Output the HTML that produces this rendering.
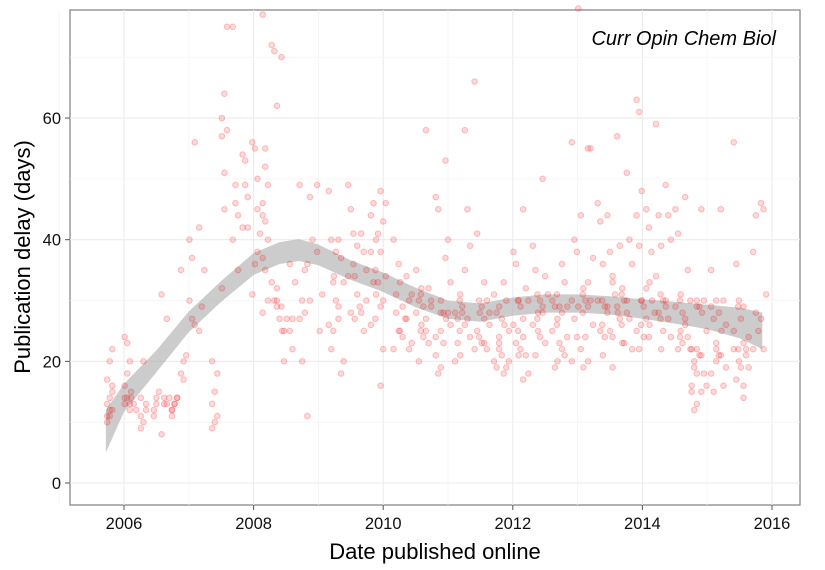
<!DOCTYPE html>
<html><head><meta charset="utf-8"><style>
body{margin:0;background:#fff;}
svg{display:block;font-family:"Liberation Sans",sans-serif;}
</style></head><body>
<svg id="chart" width="825" height="570" viewBox="0 0 825 570">
<rect x="70" y="10" width="730" height="495" fill="#fff" stroke="#7f7f7f" stroke-width="1.2"/>
<g id="grid"></g>
<g id="band"></g>
<g id="pts"></g>
<g id="axes"></g>
<text x="776" y="45" text-anchor="end" font-size="20" font-style="italic">Curr Opin Chem Biol</text>
<text x="435" y="559" text-anchor="middle" font-size="22">Date published online</text>
<text transform="translate(30,257) rotate(-90)" text-anchor="middle" font-size="22">Publication delay (days)</text>
</svg>
<script>
const xTicks=[2006,2008,2010,2012,2014,2016];
const yTicks=[0,20,40,60];
const smoothX=[2005.72,2006,2006.5,2007,2007.5,2008,2008.4,2008.7,2009,2009.5,2010,2010.5,2011,2011.5,2012,2012.5,2013,2013.5,2014,2014.5,2015,2015.5,2015.85];
const smoothMid=[8.5,14,20,26.5,31.5,36,37.8,38.3,37.5,35,33,30.5,28.5,28,29,29.5,29.5,29.2,28.6,28,27.3,26.3,25];
const smoothHalf=[3.5,2.3,1.8,1.7,1.7,1.8,1.8,1.8,1.7,1.6,1.6,1.6,1.5,1.5,1.5,1.5,1.5,1.5,1.6,1.8,2,2.5,3];
const pointGroups=[
[2005.78,[10,11,12,13,14,16,17,20,22,11,12,15]],
[2006.05,[13,14,12,16,18,20,24,23,13,14]],
[2006.3,[9,10,13,14,20,12,11]],
[2006.5,[12,14,15,11,13]],
[2006.62,[8,13,27,31,14]],
[2006.78,[12,13,14,11,13,14]],
[2006.92,[35,20,21,18,17]],
[2007.05,[40,37,56,30,27,26]],
[2007.2,[25,29,35,42]],
[2007.4,[9,10,11,13,15,18,20]],
[2007.55,[32,45,58,60,64,75,57,51]],
[2007.72,[75,46,44,40,49,35]],
[2007.87,[42,53,47,54,49,42]],
[2008.02,[56,55,45,31,36]],
[2008.18,[77,52,49,46,43,40,37,35,30,28,55]],
[2008.32,[72,71,62,33,30,29]],
[2008.47,[70,25,27,29,20]],
[2008.6,[25,27,33,36,22]],
[2008.75,[49,30,35,27,20,28]],
[2008.87,[11,47,40,36,30]],
[2009.02,[49,25,31,38]],
[2009.2,[48,40,34,26,22]],
[2009.35,[40,37,33,29,18,20]],
[2009.5,[49,45,41,34,28,36]],
[2009.7,[41,38,35,28,25,30]],
[2009.85,[44,46,40,38,33,31,26]],
[2010.0,[48,43,46,38,30,34,16,22]],
[2010.2,[40,28,25,22,31,36]],
[2010.4,[27,30,31,34,22,23]],
[2010.55,[35,30,26,28,20,32]],
[2010.7,[58,32,29,25,23,30]],
[2010.85,[47,45,28,24,18,19,21]],
[2011.0,[37,40,33,53,28,26]],
[2011.15,[28,27,21,20,23,31]],
[2011.3,[58,45,39,35,27,24]],
[2011.45,[66,41,28,22,25]],
[2011.6,[33,30,28,23,22,26]],
[2011.75,[31,28,24,20,19,22]],
[2011.9,[33,30,25,18,19,20]],
[2012.05,[38,36,30,26,23,21]],
[2012.2,[45,32,30,24,21,18,17]],
[2012.35,[39,35,28,26,21,25]],
[2012.5,[50,34,31,28,23]],
[2012.65,[30,29,27,25,19,20]],
[2012.8,[36,33,29,22,21,24]],
[2012.95,[56,40,38,30,27,24,20]],
[2013.05,[78,44,32,29,22,19]],
[2013.2,[55,55,37,33,30,26,20]],
[2013.35,[46,43,36,30,25,21]],
[2013.5,[44,38,34,29,25,19]],
[2013.65,[57,39,32,29,27,23]],
[2013.8,[51,40,36,30,27,22]],
[2013.95,[63,61,48,44,39,30,25,22]],
[2014.1,[45,42,38,32,24]],
[2014.25,[59,44,39,34,28,22]],
[2014.4,[49,44,40,30,27,24]],
[2014.55,[45,41,31,29,22,25]],
[2014.7,[47,35,30,27,24,22]],
[2014.8,[22,20,18,15,12,13,16,19,29]],
[2014.95,[45,30,25,21,18,16,15]],
[2015.1,[29,27,22,18,15,20,35]],
[2015.25,[45,30,26,21,16,19]],
[2015.45,[56,36,30,22,17,20,25]],
[2015.6,[29,21,19,16,22,24,14]],
[2015.75,[38,28,25,22,44]],
[2015.87,[46,45,31,27,22]],
[2009.27,[33,30,27,25,38]],
[2009.6,[34,31,29,27,39]],
[2009.92,[35,33,29,27,41]],
[2010.3,[33,29,27,25,24]],
[2010.62,[31,29,27,25,24]],
[2010.93,[30,28,27,25,23]],
[2011.22,[30,28,26,25,29]],
[2011.52,[30,29,27,24,23]],
[2011.83,[29,27,26,23,21]],
[2012.12,[30,29,27,25,22]],
[2012.42,[31,30,29,27,24]],
[2012.72,[31,29,28,26,23]],
[2013.12,[31,30,29,28,24]],
[2013.42,[30,29,28,26,24]],
[2013.72,[31,30,28,26,23]],
[2014.02,[30,29,27,26,24]],
[2014.32,[31,30,29,27,25]],
[2014.62,[30,28,26,24,23]],
[2014.88,[30,29,28,22,21]],
[2015.18,[30,28,25,23,21]],
[2015.52,[29,27,23,22,19]],
[2006.15,[14,13,12,15]],
[2006.7,[13,14,12]],
[2008.1,[38,41,44,50]],
[2008.4,[30,27,25,32]],
[2013.58,[33,31,28,24]],
[2014.15,[33,30,28,26]]
];
const NS='http://www.w3.org/2000/svg';
const X=v=>124+(v-2006)*64.8;
const Y=v=>483-v*6.083;
function mk(tag,attrs,parent){const e=document.createElementNS(NS,tag);for(const k in attrs)e.setAttribute(k,attrs[k]);parent.appendChild(e);return e;}
const grid=document.getElementById('grid'),axes=document.getElementById('axes');
for(let i=0;i<xTicks.length;i++){
 const x=X(xTicks[i]);
 const g=mk('line',{x1:x,x2:x,y1:10,y2:505,stroke:'#ebebeb','stroke-width':1.1},grid);
 
 
 if(i<xTicks.length-1){const xm=X(xTicks[i]+1);const m=mk('line',{x1:xm,x2:xm,y1:10,y2:505,stroke:'#f4f4f4','stroke-width':0.8},grid);
 
 }
 const t=mk('line',{x1:x,x2:x,y1:505,y2:510,stroke:'#555'},axes);
 
 
 const l=mk('text',{x:x,y:529,'text-anchor':'middle','font-size':16.5,fill:'#111'},axes);l.textContent=xTicks[i];
 
 
}
const xm0=X(2005);mk('line',{x1:xm0,x2:xm0,y1:10,y2:505,stroke:'#f4f4f4'},grid);
for(let i=0;i<yTicks.length;i++){
 const y=Y(yTicks[i]);
 const g=mk('line',{x1:70,x2:800,y1:y,y2:y,stroke:'#ebebeb','stroke-width':1.1},grid);
 
 
 const ym=Y(yTicks[i]+10);const m=mk('line',{x1:70,x2:800,y1:ym,y2:ym,stroke:'#f4f4f4','stroke-width':0.8},grid);
 
 
 const t=mk('line',{x1:65,x2:70,y1:y,y2:y,stroke:'#555'},axes);
 
 
 const l=mk('text',{x:61,y:y+6,'text-anchor':'end','font-size':16.5,fill:'#111'},axes);l.textContent=yTicks[i];
 
 
}
const pts=document.getElementById('pts');
for(const [d,vals] of pointGroups){vals.forEach((v,j)=>{
 const c=mk('circle',{cx:X(d+((j%3)-1)*0.04),cy:Y(v),r:2.8,fill:'rgba(255,0,0,0.15)',stroke:'rgba(230,0,0,0.22)','stroke-width':1},pts);
 
 
});}
let up='',lo='';
for(let i=0;i<smoothX.length;i++){up+=(i?'L':'M')+X(smoothX[i])+','+Y(smoothMid[i]+smoothHalf[i]);}
for(let i=smoothX.length-1;i>=0;i--){lo+='L'+X(smoothX[i])+','+Y(smoothMid[i]-smoothHalf[i]);}
const b=mk('path',{d:up+lo+'Z',fill:'rgba(170,170,170,0.6)',stroke:'none'},document.getElementById('band'));


</script>
</body></html>
